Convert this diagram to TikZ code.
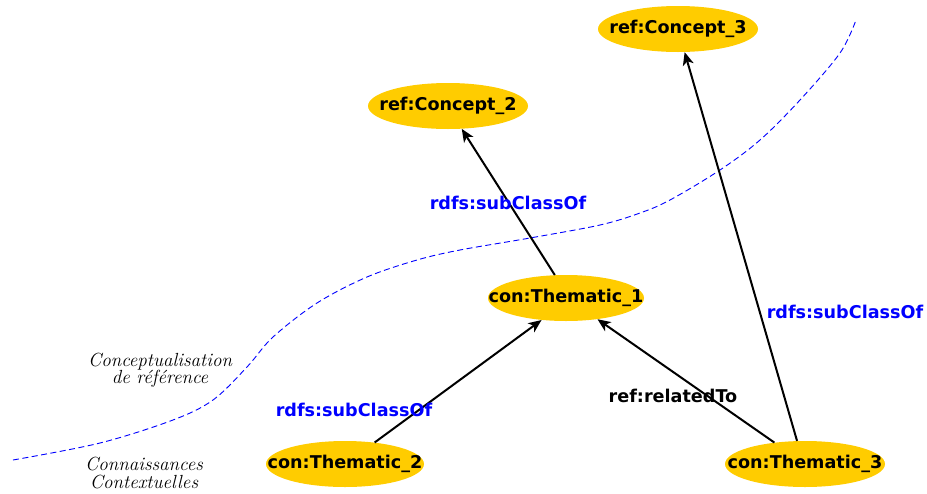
\documentclass[tikz,border=0pt]{standalone}
\usepackage{fontspec}
\newfontfamily\dejavu{DejaVu Sans}
\usetikzlibrary{shapes.geometric,arrows.meta}
\definecolor{nodegold}{RGB}{255,204,0}
\definecolor{lblue}{RGB}{0,0,255}
\tikzset{
  concept/.style={ellipse, fill=nodegold, draw=none, inner sep=0pt,
    minimum width=160pt, minimum height=46pt,
    font=\dejavu\fontsize{17.6}{20}\selectfont\bfseries},
  rel/.style={line width=2pt, -{Stealth[length=13pt,width=11pt,inset=3.5pt]}},
  rellabel/.style={font=\dejavu\fontsize{17.6}{20}\selectfont\bfseries, inner sep=0pt},
  zone/.style={font=\fontsize{19}{17.5}\selectfont\itshape, align=center, inner sep=0pt}
}
\newcommand{\cbox}[1]{\makebox[100pt][c]{#1}}
\begin{document}
\begin{tikzpicture}[x=1pt,y=-1pt]
\useasboundingbox (0,0) rectangle (927,493);
% dashed separation curve
\draw[lblue, line width=0.9pt, dash pattern=on 6pt off 3.5pt]
  plot[smooth, tension=0.55] coordinates {(13,460) (100,443) (173,420) (213,400) (247,367) (273,337) (317,303) (367,277) (417,260) (460,250) (530,238) (600,225) (640,213) (670,200) (720,170) (760,140) (800,100) (840,53) (856,20)};
% nodes
\node[concept] (c3) at (678,29) {\cbox{ref:Concept\_3}};
\node[concept] (c2) at (448,106) {\cbox{ref:Concept\_2}};
\node[concept, minimum width=156pt] (t1) at (566,298) {\cbox{con:Thematic\_1}};
\node[concept, minimum width=158pt] (t2) at (345,464) {\cbox{con:Thematic\_2}};
\node[concept] (t3) at (805,464) {\cbox{con:Thematic\_3}};
% edges
\draw[rel] (t1.116) -- (c2.-59);
\draw[rel] (t2.36) -- (t1.-138);
\draw[rel] (t3.145) -- (t1.-34);
\draw[rel] (t3.109) -- (c3.-74);
% labels
\node[rellabel, text=lblue] (l1) at (508,203) {rdfs:subClassOf};
\node[rellabel, text=lblue] (l2) at (354,410) {rdfs:subClassOf};
\node[rellabel, text=lblue] (l3) at (845,312) {rdfs:subClassOf};
\node[rellabel] (l4) at (673,396) {ref:relatedTo};
% zone texts
\node[zone] (z1) at (160,370) {Conceptualisation\\de référence};
\node[zone] (z2) at (144,473) {Connaissances\\Contextuelles};
\end{tikzpicture}
\end{document}
